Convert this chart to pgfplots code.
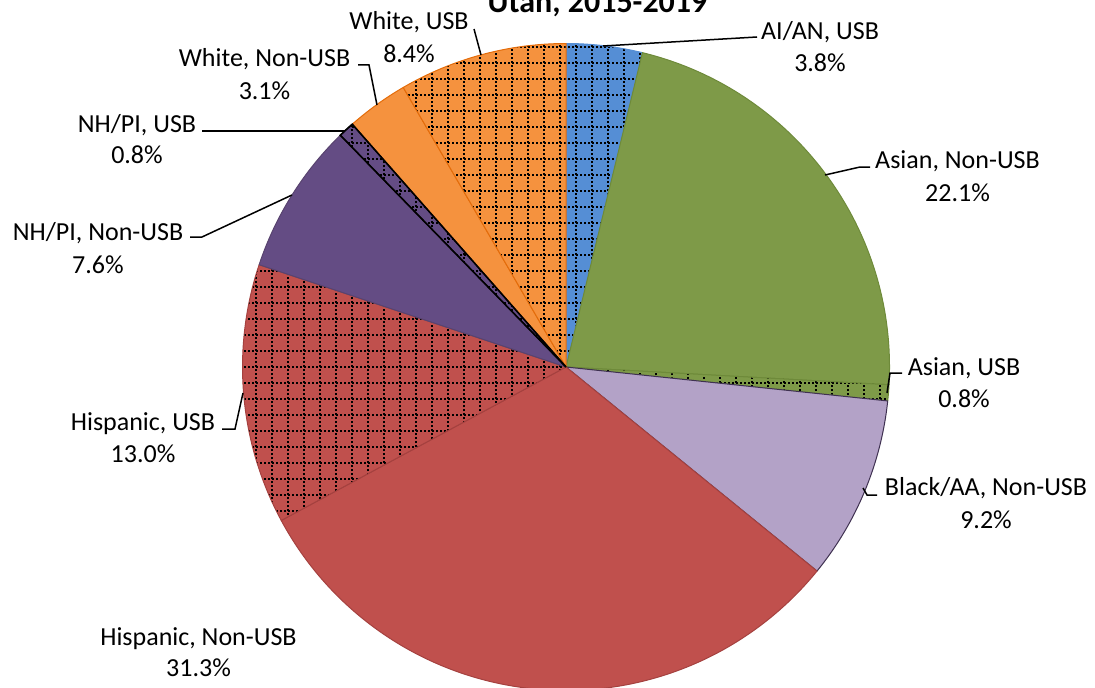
\documentclass[border=0pt]{standalone}
\usepackage{fontspec}
\setmainfont{Carlito}
\usepackage{pgfplots}
\usepackage{pgfplotstable}
\pgfplotsset{compat=1.18}
\usetikzlibrary{patterns}

\definecolor{aianF}{HTML}{558ED5}
\definecolor{aianD}{HTML}{4F81BD}
\definecolor{asianF}{HTML}{7E9A48}
\definecolor{asianD}{HTML}{6E8A3A}
\definecolor{blackF}{HTML}{B3A2C7}
\definecolor{blackD}{HTML}{3F3151}
\definecolor{hispF}{HTML}{C0504D}
\definecolor{hispD}{HTML}{A5413F}
\definecolor{nhpiF}{HTML}{644C84}
\definecolor{nhpiD}{HTML}{58436F}
\definecolor{whiteF}{HTML}{F5923E}
\definecolor{whiteD}{HTML}{E46C0A}

% dotted grid used by the USB slices
\pgfdeclarepatternformonly{dotgrid}{\pgfqpoint{-0.5pt}{-0.5pt}}{\pgfqpoint{8.5pt}{8.5pt}}{\pgfqpoint{8pt}{8pt}}{%
  \pgfsetlinewidth{1pt}%
  \pgfsetdash{{1pt}{1pt}}{0pt}%
  \pgfpathmoveto{\pgfqpoint{0pt}{0pt}}\pgfpathlineto{\pgfqpoint{8pt}{0pt}}%
  \pgfpathmoveto{\pgfqpoint{0pt}{0pt}}\pgfpathlineto{\pgfqpoint{0pt}{8pt}}%
  \pgfusepath{stroke}}

% shares, clockwise from 12 o'clock
\pgfplotstableread[col sep=comma]{
group,share
AI/AN USB,3.8
Asian Non-USB,22.1
Asian USB,0.8
Black/AA Non-USB,9.2
Hispanic Non-USB,31.3
Hispanic USB,13.0
NH/PI Non-USB,7.6
NH/PI USB,0.8
White Non-USB,3.1
White USB,8.4
}\piedata

\pgfplotstablegetrowsof{\piedata}
\pgfmathtruncatemacro\nrows{\pgfplotsretval-1}
\gdef\pietotal{0}
\foreach \i in {0,...,\nrows}{%
  \pgfplotstablegetelem{\i}{share}\of\piedata
  \pgfmathsetmacro\tmpT{\pietotal+\pgfplotsretval}%
  \xdef\pietotal{\tmpT}}
\pgfmathsetmacro\degper{360/\pietotal}
\gdef\piecum{0}
\foreach \i in {0,...,\nrows}{%
  \pgfplotstablegetelem{\i}{share}\of\piedata
  \pgfmathsetmacro\sA{90-\degper*\piecum}%
  \pgfmathsetmacro\cc{\piecum+\pgfplotsretval}%
  \pgfmathsetmacro\eA{90-\degper*\cc}%
  \expandafter\xdef\csname sa\i\endcsname{\sA}%
  \expandafter\xdef\csname ea\i\endcsname{\eA}%
  \xdef\piecum{\cc}}

\def\cx{566}\def\cy{320}\def\rr{323.5}
\newcommand\slicepath[1]{(axis cs:\cx,\cy) -- (axis cs:{\cx+\rr*cos(\csname sa#1\endcsname)},{\cy+\rr*sin(\csname sa#1\endcsname)}) arc[start angle=\csname sa#1\endcsname, end angle=\csname ea#1\endcsname, radius=161.75pt] -- cycle}
\newcommand\pieslice[3]{\fill[#2] \slicepath{#1}; \draw[#3, line width=0.5pt, line join=round] \slicepath{#1};}
\newcommand\pieslicep[3]{\fill[#2] \slicepath{#1}; \fill[pattern=dotgrid, pattern color=black] \slicepath{#1}; \draw[#3, line width=0.5pt, line join=round] \slicepath{#1};}
\newcommand\labfont{\fontsize{13}{15.6}\selectfont}
\newcommand\lab[5]{%
  \node[anchor=base, inner sep=0pt, font=\labfont] at (axis cs:#1,{687-#2}) {#4};
  \node[anchor=base, inner sep=0pt, font=\labfont] at (axis cs:#1,{687-#3}) {#5};}

\begin{document}
\begin{tikzpicture}
\begin{axis}[x=0.5pt, y=0.5pt, xmin=0, xmax=1095, ymin=0, ymax=687, hide axis]
\pieslicep{0}{aianF}{aianF}
\pieslice{1}{asianF}{asianD}
\pieslicep{2}{asianF}{asianD}
\pieslice{3}{blackF}{blackD}
\pieslice{4}{hispF}{hispD}
\pieslicep{5}{hispF}{hispD}
\pieslice{6}{nhpiF}{nhpiD}
\pieslice{8}{whiteF}{whiteD}
\pieslicep{9}{whiteF}{whiteD}
\pieslicep{7}{nhpiF}{black}
\draw[black, line width=0.8pt] \slicepath{7};

% leader lines
\addplot[black, line width=0.75pt, no marks] coordinates {(603,641) (757,650)};
\addplot[black, line width=0.75pt, no marks] coordinates {(825,512) (860,520) (870,520)};
\addplot[black, line width=0.75pt, no marks] coordinates {(887,294) (890,314) (902,314)};
\addplot[black, line width=0.75pt, no marks] coordinates {(863,199) (867,192) (877,192)};
\addplot[black, line width=0.75pt, no marks] coordinates {(243,294) (235,258) (222,258)};
\addplot[black, line width=0.75pt, no marks] coordinates {(292,492) (202,450) (190,450)};
\addplot[black, line width=0.75pt, no marks] coordinates {(345,556) (202,556)};
\addplot[black, line width=0.75pt, no marks] coordinates {(377,582) (369,622) (358,622)};
\addplot[black, line width=0.75pt, no marks] coordinates {(481,632) (474,658)};

% labels
\lab{409}{30}{63}{White, USB}{8.4\%}
\lab{820}{40}{72}{AI/AN, USB}{3.8\%}
\lab{957.5}{168}{201}{Asian, Non-USB}{22.1\%}
\lab{964}{375}{407}{Asian, USB}{0.8\%}
\lab{986}{495}{528}{Black/AA, Non-USB}{9.2\%}
\lab{198.5}{645}{676}{Hispanic, Non-USB}{31.3\%}
\lab{143}{430}{462}{Hispanic, USB}{13.0\%}
\lab{98}{240}{273}{NH/PI, Non-USB}{7.6\%}
\lab{137}{132}{163}{NH/PI, USB}{0.8\%}
\lab{264.5}{67}{99}{White, Non-USB}{3.1\%}

\node[anchor=base, inner sep=0pt, font=\fontsize{16}{19}\selectfont\bfseries] at (axis cs:597.5,674) {Utah, 2015-2019};
\end{axis}
\pgfresetboundingbox
\path (current axis.south west) rectangle (current axis.north east);
\end{tikzpicture}
\end{document}
